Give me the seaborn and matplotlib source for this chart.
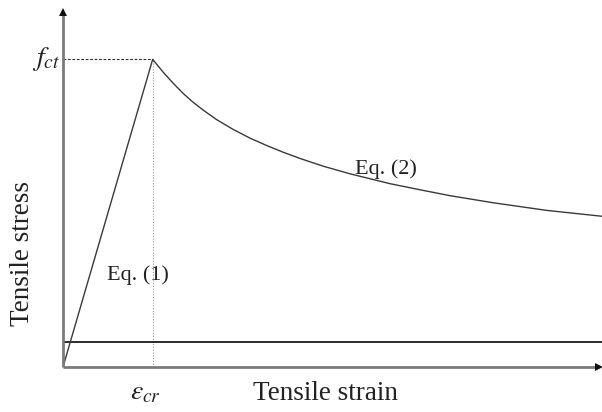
import matplotlib
matplotlib.use("Agg")
import matplotlib.pyplot as plt
import seaborn as sns
import pandas as pd

# Normalised tensile stress-strain relation (strain / eps_cr, stress / f_ct)
strain = [0.0, 1.0, 1.118, 1.230, 1.341, 1.453, 1.564, 1.714, 1.899, 2.085,
          2.271, 2.456, 2.642, 2.899, 3.200, 3.645, 4.000, 4.314, 4.794,
          5.396, 6.01]
stress = [0.0, 1.0, 0.958, 0.922, 0.889, 0.860, 0.835, 0.804, 0.772, 0.744,
          0.720, 0.698, 0.678, 0.653, 0.628, 0.596, 0.575, 0.557, 0.534,
          0.509, 0.490]
eps_cr = 1.0
f_ct = 1.0
residual_level = 0.081
x_max, y_max = 6.01, 1.167

axis_title_x = "Tensile strain"
axis_title_y = "Tensile stress"
label_fct = r"$f_{ct}$"
label_epscr = r"$\varepsilon_{cr}$"
label_eq1 = "Eq. (1)"
label_eq2 = "Eq. (2)"

sns.set_theme(style="white")
plt.rcParams["font.family"] = ["Liberation Serif", "DejaVu Serif"]
plt.rcParams["mathtext.fontset"] = "stix"

W, H = 602, 412
fig = plt.figure(figsize=(W / 100, H / 100), dpi=100)
x0, y0 = 63, 367
ax = fig.add_axes([x0 / W, (H - y0) / H, (W - x0) / W, (y0 - 8) / H])
ax.set_xlim(0, x_max)
ax.set_ylim(0, y_max)
for s in ax.spines.values():
    s.set_visible(False)
ax.set_xticks([])
ax.set_yticks([])
ax.patch.set_alpha(0)

df = pd.DataFrame({"strain": strain, "stress": stress})
sns.lineplot(data=df, x="strain", y="stress", sort=False, estimator=None,
             color="#3a3a3a", linewidth=1.0, ax=ax, zorder=4)

# guide lines to the cracking point
ax.plot([0, eps_cr], [f_ct, f_ct], color="#333333", linewidth=0.8,
        dashes=(2.5, 1.5), zorder=3)
ax.plot([eps_cr, eps_cr], [0, f_ct], color="#9a9a9a", linewidth=0.8,
        linestyle=(0, (1, 1.5)), zorder=3)

# residual stress level
ax.axhline(residual_level, color="#1a1a1a", linewidth=1.3, zorder=3)

# axes: grey shafts with black arrow heads
ax.plot([0, 0], [0, 1.152], color="#7a7a7a", linewidth=2.0, clip_on=False,
        solid_capstyle="butt", zorder=5)
ax.plot([0, 5.97], [0, 0], color="#7a7a7a", linewidth=2.0, clip_on=False,
        solid_capstyle="butt", zorder=5)
ax.plot([0], [1.155], marker="^", markersize=5.5, color="#111111",
        markeredgewidth=0, clip_on=False, zorder=6)
ax.plot([5.975], [0], marker=">", markersize=5.5, color="#111111",
        markeredgewidth=0, clip_on=False, zorder=6)

ax.text(-0.03, f_ct, label_fct, fontsize=20, ha="right", va="center",
        color="#222222", clip_on=False)
ax.text(0.92, -0.085, label_epscr, fontsize=20, ha="center", va="center",
        color="#222222", clip_on=False)
ax.text(2.93, -0.085, axis_title_x, fontsize=19.5, ha="center", va="center",
        color="#222222", clip_on=False)
ax.text(-0.457, 0.369, axis_title_y, fontsize=19.5, ha="center", va="center",
        rotation=90, color="#222222", clip_on=False)
ax.text(3.255, 0.643, label_eq2, fontsize=16, ha="left", va="center",
        color="#222222")
ax.text(0.49, 0.299, label_eq1, fontsize=16, ha="left", va="center",
        color="#222222")

fig.savefig("out.png", dpi=100)
